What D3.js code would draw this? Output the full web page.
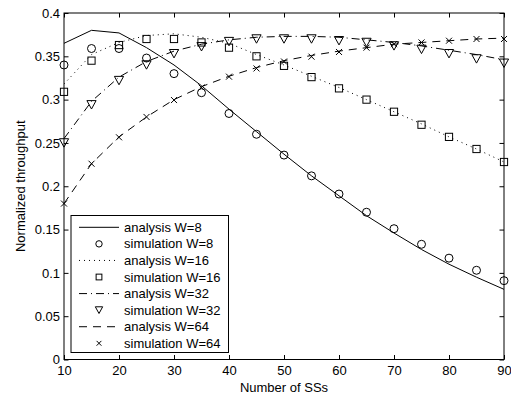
<!DOCTYPE html>
<html><head><meta charset="utf-8">
<script src="https://cdn.jsdelivr.net/npm/d3@7"></script>
<style>
body{margin:0;background:#fff;}
svg{display:block;font-family:"Liberation Sans",Arial,sans-serif;}
</style></head>
<body>
<svg id="chart" width="511" height="400"></svg>
<script>
const numSS = [10,15,20,25,30,35,40,45,50,55,60,65,70,75,80,85,90];
const analysisW8  = [0.365,0.380,0.377,0.360,0.340,0.316,0.289,0.263,0.237,0.212,0.189,0.166,0.146,0.127,0.110,0.095,0.081];
const simulationW8  = [0.340,0.359,0.359,0.348,0.330,0.308,0.284,0.260,0.236,0.212,0.191,0.170,0.151,0.133,0.117,0.103,0.091];
const analysisW16 = [0.318,0.352,0.366,0.374,0.376,0.372,0.365,0.352,0.340,0.327,0.314,0.300,0.286,0.272,0.257,0.243,0.228];
const simulationW16 = [0.309,0.345,0.363,0.370,0.370,0.366,0.360,0.350,0.339,0.326,0.313,0.300,0.286,0.271,0.257,0.243,0.228];
const analysisW32 = [0.255,0.298,0.326,0.344,0.356,0.364,0.369,0.372,0.373,0.373,0.372,0.369,0.366,0.362,0.357,0.352,0.346];
const simulationW32 = [0.250,0.294,0.322,0.340,0.353,0.361,0.367,0.370,0.370,0.370,0.368,0.366,0.362,0.358,0.353,0.347,0.342];
const analysisW64 = [0.180,0.226,0.257,0.280,0.300,0.315,0.327,0.337,0.345,0.351,0.356,0.360,0.364,0.366,0.368,0.370,0.371];
const simulationW64 = [0.180,0.226,0.2565,0.280,0.2995,0.314,0.3265,0.336,0.344,0.3496,0.355,0.360,0.364,0.366,0.368,0.370,0.370];
const xTicks = [10,20,30,40,50,60,70,80,90];
const yTicks = [0,0.05,0.1,0.15,0.2,0.25,0.3,0.35,0.4];
const xLabel = "Number of SSs";
const yLabel = "Normalized throughput";

const legendEntries = [
  {label:"analysis W=8", type:"line", dash:null},
  {label:"simulation W=8", type:"marker", marker:"circle"},
  {label:"analysis W=16", type:"line", dash:"1,4"},
  {label:"simulation W=16", type:"marker", marker:"square"},
  {label:"analysis W=32", type:"line", dash:"8,4,1,4"},
  {label:"simulation W=32", type:"marker", marker:"triangle"},
  {label:"analysis W=64", type:"line", dash:"8,6"},
  {label:"simulation W=64", type:"marker", marker:"cross"}
];

const L=64, R=504, T=13, B=359.5;
const svg = d3.select("#chart");
const x = d3.scaleLinear().domain([10,90]).range([L,R]);
const y = d3.scaleLinear().domain([0,0.4]).range([B,T]);

// axes
const fmt = d => d3.format("")(+d.toFixed(2));
svg.append("g").attr("transform",`translate(0,${B})`)
  .call(d3.axisBottom(x).tickValues(xTicks).tickSize(-4.5).tickPadding(6).tickFormat(d3.format("d")))
  .call(g=>{g.select(".domain").remove();g.selectAll("text").attr("font-size",13).attr("fill","#000").attr("font-family",null);g.selectAll("line").attr("stroke","#000");});
svg.append("g").attr("transform",`translate(0,${T})`)
  .call(d3.axisTop(x).tickValues(xTicks).tickSize(-4.5).tickFormat(""))
  .call(g=>{g.select(".domain").remove();g.selectAll("line").attr("stroke","#000");});
svg.append("g").attr("transform",`translate(${L},0)`)
  .call(d3.axisLeft(y).tickValues(yTicks).tickSize(-4.5).tickPadding(4).tickFormat(fmt))
  .call(g=>{g.select(".domain").remove();g.selectAll("text").attr("font-size",13).attr("fill","#000").attr("font-family",null);g.selectAll("line").attr("stroke","#000");});
svg.append("g").attr("transform",`translate(${R},0)`)
  .call(d3.axisRight(y).tickValues(yTicks).tickSize(-4.5).tickFormat(""))
  .call(g=>{g.select(".domain").remove();g.selectAll("line").attr("stroke","#000");});
svg.append("rect").attr("x",L).attr("y",T).attr("width",R-L).attr("height",B-T)
  .attr("fill","none").attr("stroke","#000").attr("stroke-width",1);

svg.append("text").attr("x",(L+R)/2).attr("y",391.5).attr("text-anchor","middle")
  .attr("font-size",13).text(xLabel);
svg.append("text").attr("transform",`translate(25,${(T+B)/2}) rotate(-90)`).attr("text-anchor","middle")
  .attr("font-size",13).text(yLabel);

// marker drawing
function drawMarker(g, type, cx, cy, s){
  if(type==="circle"){
    g.append("circle").attr("cx",cx).attr("cy",cy).attr("r",4*s).attr("fill","none").attr("stroke","#000").attr("stroke-width",1);
  } else if(type==="square"){
    const h=3.6*s;
    g.append("rect").attr("x",cx-h).attr("y",cy-h).attr("width",2*h).attr("height",2*h).attr("fill","none").attr("stroke","#000").attr("stroke-width",1);
  } else if(type==="triangle"){
    const w=4.6*s, h=4.2*s;
    g.append("path").attr("d",`M${cx-w},${cy-h}L${cx+w},${cy-h}L${cx},${cy+h}Z`).attr("fill","none").attr("stroke","#000").attr("stroke-width",1);
  } else if(type==="cross"){
    const h=3*s;
    g.append("path").attr("d",`M${cx-h},${cy-h}L${cx+h},${cy+h}M${cx-h},${cy+h}L${cx+h},${cy-h}`).attr("fill","none").attr("stroke","#000").attr("stroke-width",1);
  }
}

const line = d3.line().x((d,i)=>x(numSS[i])).y(d=>y(d));
const lines = [[analysisW8,null],[analysisW16,"1,4"],[analysisW32,"8,4,1,4"],[analysisW64,"8,6"]];
lines.forEach(([data,dash])=>{
  const p = svg.append("path").attr("d",line(data)).attr("fill","none").attr("stroke","#000").attr("stroke-width",1);
  if(dash) p.attr("stroke-dasharray",dash);
});
const sims = [[simulationW8,"circle"],[simulationW16,"square"],[simulationW32,"triangle"],[simulationW64,"cross"]];
sims.forEach(([data,type])=>{
  const g = svg.append("g");
  data.forEach((v,i)=>drawMarker(g,type,x(numSS[i]),y(v),1));
});

// legend
const lg = svg.append("g");
lg.append("rect").attr("x",71).attr("y",215.5).attr("width",157.5).attr("height",137)
  .attr("fill","#fff").attr("stroke","#000").attr("stroke-width",1);
legendEntries.forEach((e,i)=>{
  const cy = 227.3 + i*16.57;
  if(e.type==="line"){
    const l = lg.append("line").attr("x1",79).attr("x2",119).attr("y1",cy).attr("y2",cy).attr("stroke","#000").attr("stroke-width",1);
    if(e.dash) l.attr("stroke-dasharray",e.dash);
  } else {
    drawMarker(lg,e.marker,99,cy,0.8);
  }
  lg.append("text").attr("x",124).attr("y",cy).attr("dy","0.35em").attr("font-size",13).text(e.label);
});
</script>
</body></html>
